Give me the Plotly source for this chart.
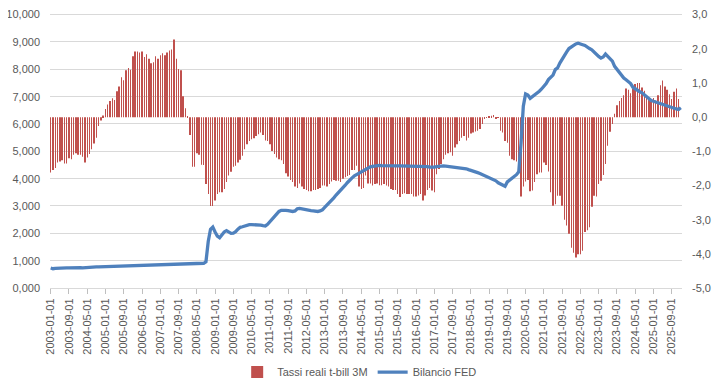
import plotly.graph_objects as go
import pandas as pd

months = pd.date_range("2003-01-01", "2026-01-01", freq="MS")
categories = [d.strftime("%Y-%m-%d") for d in months]

tassi_reali = [
    -1.62, -1.55, -1.49, -1.33, -1.30, -1.26, -1.36, -1.36, -1.20, -1.23,
    -1.10, -1.06, -1.10, -1.10, -1.16, -1.33, -1.18, -1.08, -0.94, -0.77,
    -0.60, -0.26, -0.10, 0.05, 0.24, 0.37, 0.47, 0.55, 0.50, 0.76,
    0.90, 1.17, 1.08, 1.37, 1.44, 1.39, 1.78, 1.92, 1.92, 1.89,
    1.92, 1.76, 1.84, 1.71, 1.58, 1.61, 1.78, 1.71, 1.81, 1.87,
    1.81, 1.89, 1.95, 1.98, 2.27, 1.71, 1.41, 1.37, 0.61, 0.26,
    0.03, -0.52, -1.45, -1.45, -1.06, -1.10, -1.39, -1.40, -1.96, -2.25,
    -2.60, -2.60, -2.44, -2.25, -2.20, -2.20, -2.10, -1.90, -1.71, -1.60,
    -1.45, -1.42, -1.33, -1.25, -1.13, -0.94, -0.79, -0.70, -0.65, -0.62,
    -0.55, -0.50, -0.45, -0.52, -0.68, -0.70, -0.79, -0.99, -1.08, -1.18,
    -1.23, -1.26, -1.37, -1.64, -1.74, -1.84, -1.90, -2.03, -2.07, -1.94,
    -2.03, -2.10, -2.13, -2.17, -2.17, -2.13, -2.13, -2.10, -2.07, -2.00,
    -2.00, -2.03, -1.96, -1.88, -1.84, -1.86, -1.86, -1.90, -1.80, -1.76,
    -1.72, -1.69, -1.55, -1.55, -1.42, -2.03, -2.10, -2.07, -1.71, -1.94,
    -1.94, -2.00, -1.96, -1.94, -1.99, -1.99, -1.96, -2.00, -2.03, -2.10,
    -2.13, -2.13, -2.25, -2.34, -2.25, -2.23, -2.25, -2.25, -2.25, -2.32,
    -2.32, -2.29, -2.25, -2.44, -2.29, -2.13, -2.07, -2.15, -2.20, -1.67,
    -1.52, -1.37, -1.23, -1.10, -1.06, -1.03, -1.13, -0.89, -0.79, -0.70,
    -0.60, -0.55, -0.68, -0.60, -0.48, -0.45, -0.42, -0.40, -0.35, -0.20,
    -0.05, -0.02, 0.02, 0.04, 0.06, -0.03, -0.01, -0.40, -0.45, -0.70,
    -0.75, -1.13, -1.23, -1.26, -1.30, -1.30, -2.32, -2.03, -1.88, -1.84,
    -2.17, -2.15, -1.90, -1.67, -1.62, -1.62, -1.33, -1.40, -1.59, -2.20,
    -2.59, -2.55, -2.30, -2.30, -2.59, -3.00, -3.17, -3.41, -3.82, -3.97,
    -4.11, -4.01, -4.01, -3.91, -3.36, -3.31, -3.22, -2.62, -2.30, -2.32,
    -1.96, -1.86, -1.69, -1.37, -0.84, -0.43, -0.20, 0.10, 0.35, 0.47,
    0.56, 0.64, 0.84, 0.80, 0.70, 0.84, 0.97, 1.00, 1.00, 0.87,
    0.77, 0.64, 0.56, 0.49, 0.56, 0.49, 0.64, 0.93, 1.07, 0.90,
    0.80, 0.67, 0.53, 0.74, 0.84, 0.53, None,
]

bilancio_fed = [
    730, 705, 720, 728, 730, 732, 735, 735, 738, 740, 742, 745,
    770, 748, 735, 745, 755, 760, 765, 770, 772, 775, 778, 780,
    790, 795, 800, 805, 808, 810, 812, 815, 815, 818, 820, 822,
    825, 828, 830, 832, 835, 838, 840, 842, 842, 845, 848, 850,
    852, 855, 858, 860, 862, 862, 865, 870, 868, 872, 875, 880,
    885, 880, 885, 890, 890, 895, 900, 905, 960, 1700, 2150, 2230,
    2050, 1900, 1840, 1950, 2050, 2100, 2050, 2000, 2010, 2060, 2150, 2220,
    2240, 2270, 2300, 2315, 2320, 2320, 2315, 2310, 2300, 2280, 2270, 2330,
    2420, 2520, 2620, 2720, 2800, 2840, 2850, 2840, 2830, 2810, 2800, 2820,
    2900, 2910, 2890, 2860, 2850, 2840, 2830, 2820, 2810, 2800, 2820, 2860,
    2950, 3030, 3140, 3220, 3300, 3400, 3480, 3560, 3660, 3760, 3860, 3960,
    4030, 4100, 4150, 4200, 4260, 4315, 4360, 4400, 4430, 4450, 4470, 4485,
    4485, 4480, 4475, 4470, 4470, 4470, 4470, 4470, 4470, 4470, 4470, 4470,
    4470, 4470, 4470, 4470, 4470, 4470, 4470, 4470, 4460, 4440, 4420, 4410,
    4420, 4440, 4460, 4470, 4470, 4460, 4450, 4440, 4430, 4410, 4410, 4410,
    4400, 4380, 4360, 4330, 4310, 4280, 4250, 4220, 4190, 4150, 4120, 4090,
    4060, 4010, 3970, 3920, 3850, 3800, 3760, 3720, 3880, 3960, 4010, 4080,
    4145, 4250, 5300, 6650, 7100, 7060, 6940, 7000, 7060, 7120, 7200, 7280,
    7360, 7480, 7625, 7700, 7790, 7990, 8050, 8230, 8380, 8533, 8640, 8760,
    8820, 8897, 8930, 8957, 8940, 8900, 8873, 8800, 8760, 8716, 8620, 8533,
    8470, 8412, 8450, 8557, 8480, 8412, 8300, 8109, 8000, 7866, 7780, 7684,
    7620, 7563, 7480, 7345, 7280, 7225, 7180, 7139, 7060, 6982, 6920, 6861,
    6830, 6800, 6760, 6739, 6710, 6680, 6655, 6620, 6590, 6570, 6550, 6534,
    6594,
]

x_tick_labels = [
    "2003-01-01", "2003-09-01", "2004-05-01", "2005-01-01", "2005-09-01",
    "2006-05-01", "2007-01-01", "2007-09-01", "2008-05-01", "2009-01-01",
    "2009-09-01", "2010-05-01", "2011-01-01", "2011-09-01", "2012-05-01",
    "2013-01-01", "2013-09-01", "2014-05-01", "2015-01-01", "2015-09-01",
    "2016-05-01", "2017-01-01", "2017-09-01", "2018-05-01", "2019-01-01",
    "2019-09-01", "2020-05-01", "2021-01-01", "2021-09-01", "2022-05-01",
    "2023-01-01", "2023-09-01", "2024-05-01", "2025-01-01", "2025-09-01",
]
left_tick_vals = [0, 1000, 2000, 3000, 4000, 5000, 6000, 7000, 8000, 9000, 10000]
left_tick_text = ["0,000", "1,000", "2,000", "3,000", "4,000", "5,000",
                  "6,000", "7,000", "8,000", "9,000", "10,000"]
right_tick_vals = [-5, -4, -3, -2, -1, 0, 1, 2, 3]
right_tick_text = ["-5,0", "-4,0", "-3,0", "-2,0", "-1,0", "0,0", "1,0", "2,0", "3,0"]

xi = list(range(len(categories)))
tick_pos = [categories.index(t) for t in x_tick_labels]

fig = go.Figure()
fig.add_trace(go.Bar(
    x=xi, y=tassi_reali, name="Tassi reali t-bill 3M",
    width=0.18,
    marker=dict(color="#C0504D", line=dict(width=0)),
    yaxis="y",
))
fig.add_trace(go.Scatter(
    x=xi, y=bilancio_fed, name="Bilancio FED", mode="lines",
    line=dict(color="#4F81BD", width=3.3),
    yaxis="y2",
))

# page body has an 8px default margin, so the figure is sized to fit inside it
font_color = "#595959"
fig.update_layout(
    width=712, height=375,
    margin=dict(l=42, r=38, t=5.36, b=95, autoexpand=False),
    paper_bgcolor="white", plot_bgcolor="white",
    font=dict(family="Liberation Sans, Arial, sans-serif", size=11, color=font_color),
    showlegend=True,
    legend=dict(orientation="h", x=0.49, xanchor="center", y=-0.3059, yanchor="middle",
                font=dict(size=11, color=font_color), itemwidth=30,
                traceorder="normal"),
    xaxis=dict(
        range=[-0.3, 276.5], tickmode="array", tickvals=tick_pos, ticktext=x_tick_labels,
        tickangle=-90, showgrid=False, zeroline=False, automargin=False,
        showline=True, linecolor="#D9D9D9", linewidth=1,
        ticks="outside", ticklen=5, tickcolor="#BFBFBF",
        tickfont=dict(size=11, color=font_color),
    ),
    yaxis=dict(
        side="right", range=[-5, 3.048], tickmode="array",
        tickvals=right_tick_vals, ticktext=right_tick_text,
        showgrid=False, zeroline=False, showline=False, automargin=False,
        ticklabeloverflow="allow",
        ticklabelstandoff=9, tickfont=dict(size=11, color=font_color),
    ),
    yaxis2=dict(
        overlaying="y", side="left", range=[0, 10060], tickmode="array",
        tickvals=left_tick_vals, ticktext=left_tick_text,
        showgrid=True, gridcolor="#D9D9D9", gridwidth=1,
        zeroline=False, showline=False, automargin=False,
        ticklabeloverflow="allow",
        ticklabelstandoff=9, tickfont=dict(size=11, color=font_color),
    ),
)

fig.write_html("out.html")
